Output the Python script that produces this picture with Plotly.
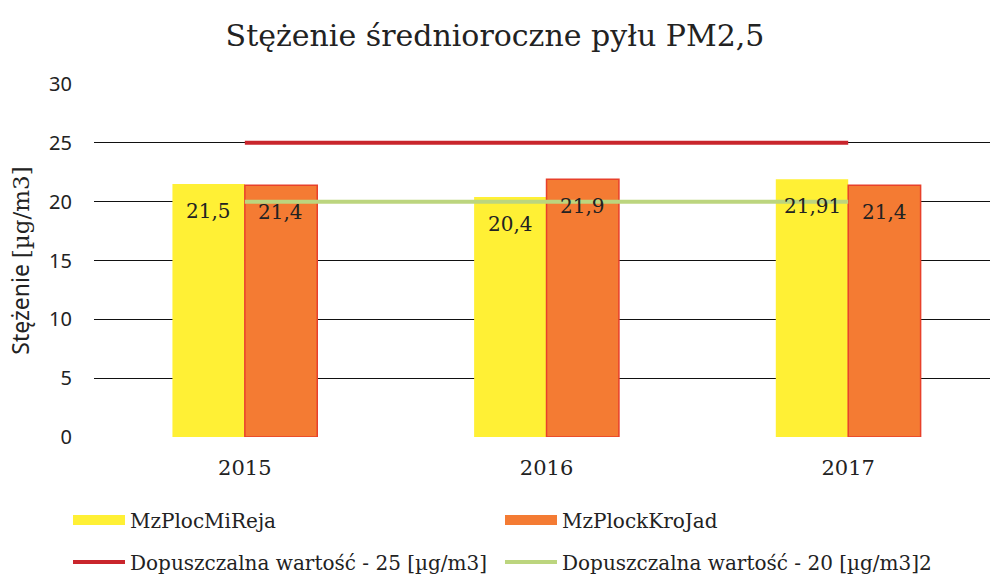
import plotly.graph_objects as go

years = ["2015", "2016", "2017"]
mi_reja = [21.5, 20.4, 21.91]
kro_jad = [21.4, 21.9, 21.4]
mi_reja_labels = ["21,5", "20,4", "21,91"]
kro_jad_labels = ["21,4", "21,9", "21,4"]
limit25 = [25, 25, 25]
limit20 = [20, 20, 20]

names = ["MzPlocMiReja", "MzPlockKroJad",
         "Dopuszczalna wartość - 25 [µg/m3]", "Dopuszczalna wartość - 20 [µg/m3]2"]

YEL = "#FFF035"
ORA = "#F47B33"
RED = "#C9252C"
GRN = "#BCD57E"
SERIF = "DejaVu Serif"
SANS = "Noto Sans"

fig = go.Figure()
fig.add_trace(go.Bar(x=years, y=mi_reja, marker=dict(color=YEL, line=dict(width=0)),
                     showlegend=False, hoverinfo="skip"))
fig.add_trace(go.Bar(x=years, y=kro_jad, marker=dict(color=ORA, line=dict(color="#E8402A", width=1.5)),
                     showlegend=False, hoverinfo="skip"))
fig.add_trace(go.Scatter(x=years, y=limit25, mode="lines", line=dict(color=RED, width=4),
                         showlegend=False, hoverinfo="skip"))
fig.add_trace(go.Scatter(x=years, y=limit20, mode="lines", line=dict(color=GRN, width=4),
                         showlegend=False, hoverinfo="skip"))

# legend entries (legend-only proxies)
legend_specs = [(names[0], YEL, 13, "legend"), (names[1], ORA, 13, "legend"),
                (names[2], RED, 4, "legend2"), (names[3], GRN, 4, "legend2")]
for nm, col, w, lg in legend_specs:
    fig.add_trace(go.Scatter(x=years[:1], y=[None], mode="lines", line=dict(color=col, width=w),
                             name=nm, legend=lg, hoverinfo="skip"))

# data labels (category index used as x position)
for i in range(len(years)):
    fig.add_annotation(x=i, y=mi_reja[i], text=mi_reja_labels[i], showarrow=False,
                       xshift=-36, yshift=-27, font=dict(family=SERIF, size=20, color="#222"))
    fig.add_annotation(x=i, y=kro_jad[i], text=kro_jad_labels[i], showarrow=False,
                       xshift=36, yshift=-27, font=dict(family=SERIF, size=20, color="#222"))

legend_common = dict(orientation="h", xref="container", yref="container",
                     xanchor="left", yanchor="middle", entrywidth=365, entrywidthmode="pixels",
                     itemwidth=52, font=dict(family=SERIF, size=20, color="#222"),
                     bgcolor="rgba(0,0,0,0)", itemclick=False, itemdoubleclick=False)

fig.update_layout(
    width=990, height=575,
    margin=dict(l=94, r=0, t=84, b=138),
    paper_bgcolor="white", plot_bgcolor="white",
    barmode="group", bargap=0.52, bargroupgap=0,
    title=dict(text="Stężenie średnioroczne pyłu PM2,5", x=0.5, xref="container",
               xanchor="center",
               y=1 - 35 / 575, yref="container", yanchor="middle",
               font=dict(family=SERIF, size=30, color="#222")),
    xaxis=dict(type="category", categoryorder="array", categoryarray=years,
               range=[-0.5, 2.47], showgrid=False, showline=False, zeroline=False,
               ticks="outside", ticklen=12, tickcolor="rgba(0,0,0,0)",
               tickfont=dict(family=SERIF, size=21, color="#222")),
    yaxis=dict(range=[0, 30], dtick=5, showgrid=True, gridcolor="#111", gridwidth=1.3,
               zeroline=False, showline=False,
               ticks="outside", ticklen=17, tickcolor="rgba(0,0,0,0)",
               tickfont=dict(family=SANS, size=20, color="#222"),
               title=dict(text="Stężenie <span style='font-family:DejaVu Serif'>[µg/m3]</span>",
                          standoff=13,
                          font=dict(family=SANS, size=23, color="#222"))),
    legend=dict(x=68 / 990, y=1 - 520 / 575, **legend_common),
    legend2=dict(x=68 / 990, y=1 - 562 / 575, **legend_common),
)

fig.write_html("out.html", config={"displayModeBar": False},
               post_script="document.body.style.margin='0';document.body.style.padding='0';")
